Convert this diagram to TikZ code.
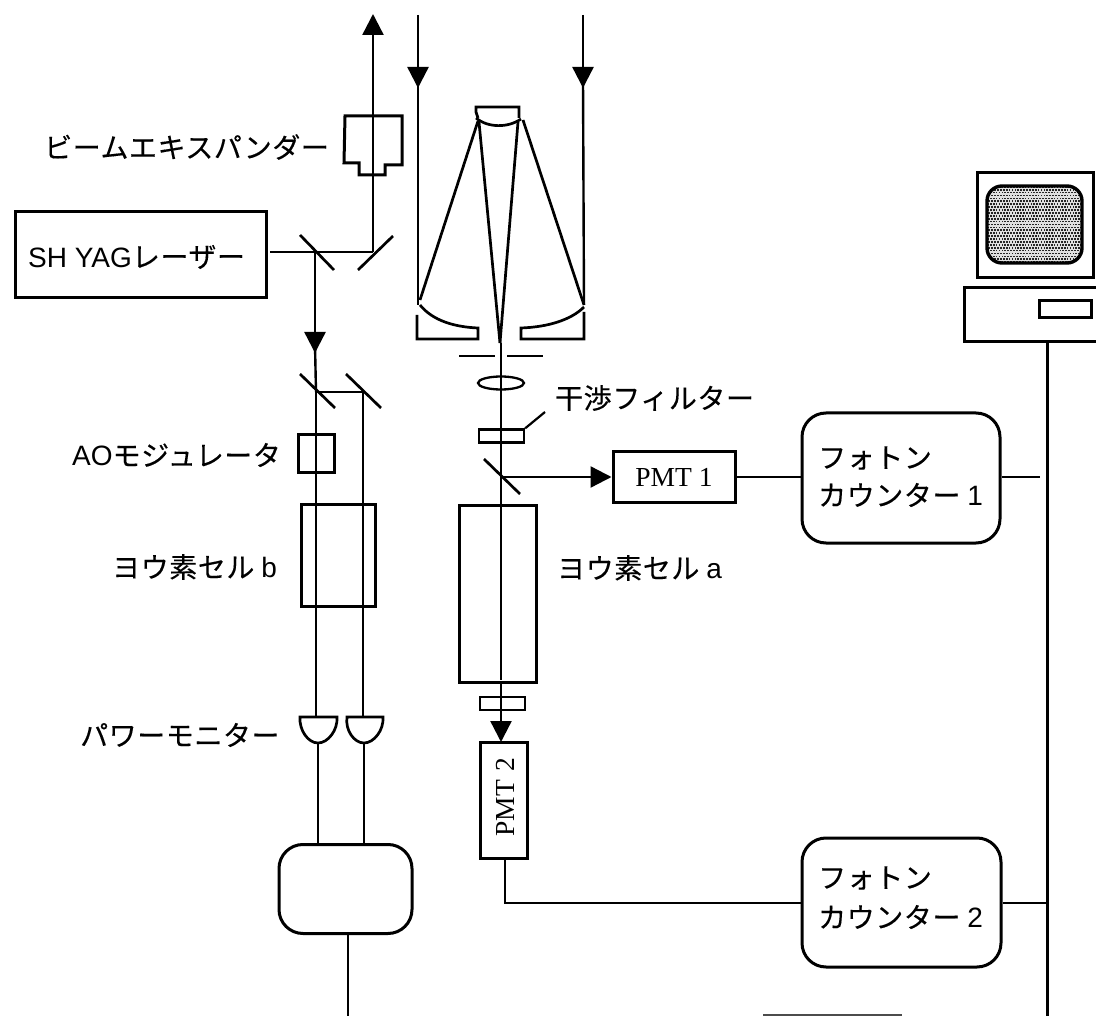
\documentclass[tikz,border=0pt]{standalone}
\usepackage{fontspec}
\setmainfont{Liberation Serif}
\newfontfamily\jp[LetterSpace=2.0,FakeBold=0.3]{Noto Sans CJK JP}
\newfontfamily\lat{Liberation Sans}
\usetikzlibrary{arrows.meta}
\tikzset{
  x=1pt,y=-1pt,
  ln/.style={line width=2.6pt},
  box/.style={draw,line width=3pt,inner sep=0pt,fill=none},
  rbox/.style={box,rounded corners=24pt},
  beam/.style={line width=2.4pt},
  arr/.style={beam,-{Triangle[length=21pt,width=21pt]}},
  lbl/.style={font=\jp\fontsize{28}{30}\selectfont,anchor=west,inner sep=0pt},
  pmt/.style={font=\fontsize{27.5}{30}\selectfont,inner sep=0pt},
  part/.style={draw,line width=2.7pt},
}
\begin{document}
\begin{tikzpicture}
\useasboundingbox (0,0) rectangle (1096,1016);
% telescope rays
\coordinate (tl) at (418,15); \coordinate (tr) at (583,15);
\coordinate (ml) at (418,305); \coordinate (mr) at (584,305);
\draw[arr] (tl) -- (418,88);
\draw[beam] (418,80) -- (ml);
\draw[arr] (tr) -- (583,88);
\draw[beam] (583,80) -- (mr);
\draw[part] (478,118) -- (476,112) -- (476,107) -- (519,107) -- (519,118);
\draw[part] (476,118) .. controls (488,128) and (508,128) .. (521,119);
\draw[part] (478,121) -- (420,300);
\draw[part] (523,120) -- (584,305);
\draw[part] (479,122) -- (500,343);
\draw[part] (518,122) -- (500,343);
\draw[part] (420,305) .. controls (433,321) and (455,327) .. (478,328) -- (478,339) -- (417,339) -- (417,315);
\draw[part] (584,307) .. controls (571,320) and (548,327) .. (521,328) -- (521,339) -- (584,339) -- (584,312);
\draw[line width=2.4pt] (459,356) -- (495,356) (507,356) -- (543,356);
\draw[beam] (501,343) -- (501,680);
\draw[part,line width=2.3pt] (501,383) ellipse [x radius=23,y radius=6.5];
\node[draw,line width=2.3pt,minimum width=45pt,minimum height=13pt,inner sep=0pt] (filtA) at (501.5,436) {};
\coordinate (filtTip) at (545,412);
\draw[line width=2.2pt] (filtA.north east) -- (filtTip);
\draw[part] (484,459) -- (520,494);
% PMT1 chain
\node[box,minimum width=122pt,minimum height=50pt,pmt] (pmtA) at (674,477) {PMT 1};
\node[rbox,minimum width=198pt,minimum height=130pt] (cntA) at (901,478) {};
\coordinate (mA) at (501,477);
\draw[arr] (mA) -- (pmtA.west);
\draw[ln] (pmtA.east) -- (cntA.west |- pmtA.east);
\coordinate (busA) at (1040,477);
\draw[ln] (cntA.east |- busA) -- (busA);
% iodine a
\node[box,minimum width=77pt,minimum height=177pt] (cellA) at (497.5,593.5) {};
\node[draw,line width=2.3pt,minimum width=45pt,minimum height=13pt,inner sep=0pt] (filtB) at (502.5,703.5) {};
% PMT2
\node[box,minimum width=47pt,minimum height=116pt] (pmtB) at (503.5,800) {};
\node[pmt,rotate=90] at (505,797) {PMT\,\,2};
\draw[arr] (501,682) -- (501,742);
\node[rbox,minimum width=199pt,minimum height=129pt] (cntB) at (901.5,902.5) {};
\coordinate (elb) at (505,903);
\draw[ln] (505,858) -- (elb) -- (cntB.west |- elb);
\coordinate (busB) at (1047,903);
\draw[ln] (cntB.east |- busB) -- (busB);
% computer
\draw[line width=3pt] (977,173) rectangle (1093,278);
\begin{scope}
\clip[rounded corners=15pt] (987,186) rectangle (1082,263);
\fill[black!12] (987,186) rectangle (1082,263);
\foreach \i in {0,...,32}{\foreach \j in {0,...,26}{
  \pgfmathsetmacro{\dx}{987+2.9*\i+1.45*mod(\j,2)}
  \pgfmathsetmacro{\dy}{186+2.9*\j}
  \fill[black!85] (\dx,\dy) rectangle +(1.7,1.7);
}}
\end{scope}
\draw[line width=3.4pt,rounded corners=15pt] (987,186) rectangle (1082,263);
\draw[line width=3pt] (1097,288) -- (964,288) -- (964,342) -- (1097,342);
\draw[line width=3pt] (1039,301) rectangle (1091,318);
\coordinate (busTop) at (1047,342); \coordinate (busEnd) at (1047,1016);
\draw[line width=3pt] (busTop) -- (busEnd);
% laser
\node[box,minimum width=251pt,minimum height=86pt] (laser) at (140.5,255) {};
\node[lbl] at (28,257) {{\lat SH YAG}レーザー};
\coordinate (split1) at (315,252); \coordinate (split2) at (373,252);
\draw[beam] (270,252) -- (split2);
\draw[part] (300,235) -- (334,270);
\draw[part] (358,270) -- (393,236);
% expander
\draw[arr] (split2) -- (373,14);
\draw[line width=3pt] (345,116) -- (402,116) -- (402,165) -- (385,165) -- (385,175) -- (359,175) -- (359,163) -- (344,163) -- cycle;
\draw[arr] (split1) -- (315,353);
\draw[beam] (315,345) -- (316,392);
\draw[part] (300,374) -- (335,408);
\draw[part] (346,374) -- (381,408);
\coordinate (split3) at (316,392); \coordinate (split4) at (363,392);
\draw[beam] (split3) -- (split4) -- (363,717);
\draw[beam] (split3) -- (316,717);
\node[box,minimum width=36pt,minimum height=37pt] (ao) at (316,453.5) {};
\node[box,minimum width=74pt,minimum height=102pt] (cellB) at (338,555) {};
% detectors
\draw[part,fill=white] (300,717) -- (337,717) .. controls (338,730) and (328,743) .. (318,743) .. controls (308,743) and (299,730) .. (300,717) -- cycle;
\draw[part,fill=white] (347,717) -- (383,717) .. controls (384,730) and (374,743) .. (364,743) .. controls (354,743) and (345,730) .. (347,717) -- cycle;
\node[rbox,minimum width=133pt,minimum height=89pt] (ctrl) at (345.5,889) {};
\draw[line width=2.8pt] (318,743) -- (318,844);
\draw[line width=2.8pt] (364,743) -- (364,844);
\coordinate (ctrlEnd) at (348,1016);
\draw[line width=2.8pt] (ctrl.south -| ctrlEnd) -- (ctrlEnd);
% cut-off edge at the bottom of the sheet
\coordinate (cutA) at (763,1015); \coordinate (cutB) at (902,1015);
\draw[line width=2pt,black!70] (cutA) -- (cutB);
% labels
\node[lbl] at (44,147) {ビームエキスパンダー};
\node[lbl] at (555,398) {干渉フィルター};
\node[lbl] at (72,455) {{\lat AO}モジュレータ};
\node[lbl] at (112,567) {ヨウ素セル {\lat b}};
\node[lbl] at (557,568) {ヨウ素セル {\lat a}};
\node[lbl] at (80,735) {パワーモニター};
\node[lbl] at (818,458) {フォトン};
\node[lbl] at (818,495) {カウンター {\lat 1}};
\node[lbl] at (818,878) {フォトン};
\node[lbl] at (818,917) {カウンター {\lat 2}};
\end{tikzpicture}
\end{document}
